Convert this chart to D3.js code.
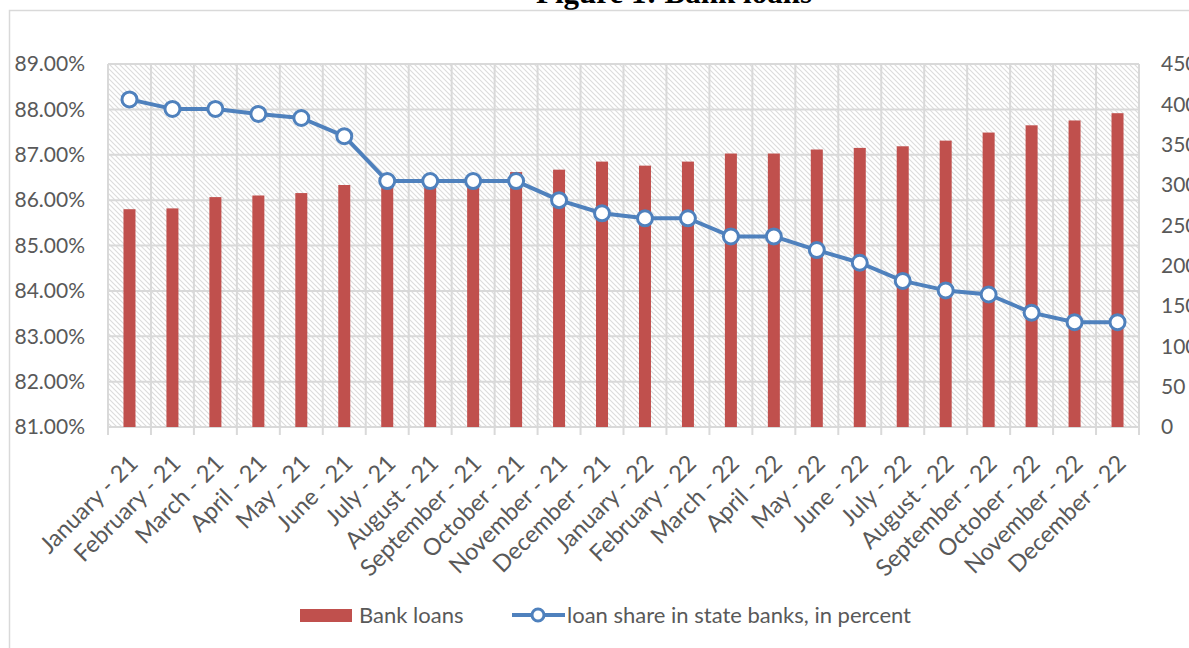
<!DOCTYPE html>
<html>
<head>
<meta charset="utf-8">
<script src="https://cdn.jsdelivr.net/npm/d3@7"></script>
<style>
  body { margin: 0; background: #fff; }
  svg { display: block; }
  text { font-family: Lato, "Open Sans", sans-serif; fill: #595959; }
</style>
</head>
<body>
<div id="chart"></div>
<script>
// chart data
var months = ["January - 21", "February - 21", "March - 21", "April - 21", "May - 21", "June - 21",
    "July - 21", "August - 21", "September - 21", "October - 21", "November - 21", "December - 21",
    "January - 22", "February - 22", "March - 22", "April - 22", "May - 22", "June - 22",
    "July - 22", "August - 22", "September - 22", "October - 22", "November - 22", "December - 22"];

var bankLoans = [270, 271, 285, 287, 290, 300, 303, 306, 310, 316, 319, 329,
    324, 329, 339, 339, 344, 346, 348, 355, 365, 374, 380, 389];

var loanShare = [88.22, 88.01, 88.01, 87.90, 87.81, 87.41, 86.42, 86.42, 86.42, 86.42, 86.00, 85.71,
    85.60, 85.60, 85.20, 85.20, 84.90, 84.62, 84.22, 84.01, 83.92, 83.52, 83.31, 83.31];

var leftTicks = [81, 82, 83, 84, 85, 86, 87, 88, 89];
var rightTicks = [0, 50, 100, 150, 200, 250, 300, 350, 400, 450];

var seriesNames = ["Bank loans", "loan share in state banks, in percent"];

//---------------------------------------------------------------
var gSettings = {
    width : 1189,
    height : 648,
    plot : { left : 108, right : 1139, top : 64, bottom : 427 },
    barColor : "#C0504D",
    lineColor : "#4F81BD",
    gridColor : "#d9d9d9"
};

function drawChart(){
    var p = gSettings.plot;

    var svg = d3.select("#chart").append("svg")
        .attr("width", gSettings.width)
        .attr("height", gSettings.height);

    //hatch pattern for the plot area
    var defs = svg.append("defs");
    var pat = defs.append("pattern")
        .attr("id", "hatch")
        .attr("patternUnits", "userSpaceOnUse")
        .attr("width", 5)
        .attr("height", 5);
    pat.append("rect").attr("width", 5).attr("height", 5).attr("fill", "#fff");
    pat.append("path")
        .attr("d", "M0,0 L5,5 M-1,4 L1,6 M4,-1 L6,1")
        .attr("stroke", "#dcdcdc")
        .attr("stroke-width", 1.1);

    //title (cut off at the top) and the chart frame
    svg.append("text")
        .attr("x", 674)
        .attr("y", 3)
        .attr("text-anchor", "middle")
        .style("font-family", "'Liberation Serif', serif")
        .style("font-weight", "bold")
        .style("font-size", "31px")
        .style("fill", "#000")
        .text("Figure 1: Bank loans");

    svg.append("rect")
        .attr("x", 9.5).attr("y", 10.5)
        .attr("width", 1300).attr("height", 800)
        .attr("fill", "none")
        .attr("stroke", gSettings.gridColor)
        .attr("stroke-width", 1.5);

    var x = d3.scaleBand()
        .domain(months)
        .range([p.left, p.right])
        .padding(0);

    var yLeft = d3.scaleLinear().domain([81, 89]).range([p.bottom, p.top]);
    var yRight = d3.scaleLinear().domain([0, 450]).range([p.bottom, p.top]);

    svg.append("rect")
        .attr("x", p.left).attr("y", p.top)
        .attr("width", p.right - p.left).attr("height", p.bottom - p.top)
        .attr("fill", "url(#hatch)");

    //gridlines
    var grid = svg.append("g").attr("stroke", gSettings.gridColor).attr("stroke-width", 2);
    grid.selectAll("line.h").data(leftTicks).enter().append("line")
        .attr("x1", p.left).attr("x2", p.right)
        .attr("y1", function(d){ return yLeft(d); })
        .attr("y2", function(d){ return yLeft(d); });

    var bounds = months.map(function(m){ return x(m); }).concat([p.right]);
    grid.selectAll("line.v").data(bounds).enter().append("line")
        .attr("x1", function(d){ return d; })
        .attr("x2", function(d){ return d; })
        .attr("y1", p.top)
        .attr("y2", p.bottom + 8);

    //bars
    var barW = 12;
    svg.append("g").selectAll("rect").data(bankLoans).enter().append("rect")
        .attr("x", function(d, i){ return x(months[i]) + x.bandwidth() / 2 - barW / 2; })
        .attr("y", function(d){ return yRight(d); })
        .attr("width", barW)
        .attr("height", function(d){ return yRight(0) - yRight(d); })
        .attr("fill", gSettings.barColor);

    //line with markers
    var line = d3.line()
        .x(function(d, i){ return x(months[i]) + x.bandwidth() / 2; })
        .y(function(d){ return yLeft(d); });

    svg.append("path")
        .datum(loanShare)
        .attr("d", line)
        .attr("fill", "none")
        .attr("stroke", gSettings.lineColor)
        .attr("stroke-width", 4)
        .attr("stroke-linejoin", "round");

    svg.append("g").selectAll("circle").data(loanShare).enter().append("circle")
        .attr("cx", function(d, i){ return x(months[i]) + x.bandwidth() / 2; })
        .attr("cy", function(d){ return yLeft(d); })
        .attr("r", 7.5)
        .attr("fill", "#fff")
        .attr("stroke", gSettings.lineColor)
        .attr("stroke-width", 3);

    //left axis labels
    svg.append("g").selectAll("text").data(leftTicks).enter().append("text")
        .attr("x", 85)
        .attr("y", function(d){ return yLeft(d); })
        .attr("dy", "0.35em")
        .attr("text-anchor", "end")
        .style("font-size", "21px")
        .text(function(d){ return d3.format(".2f")(d) + "%"; });

    //right axis labels
    svg.append("g").selectAll("text").data(rightTicks).enter().append("text")
        .attr("x", 1161)
        .attr("y", function(d){ return yRight(d); })
        .attr("dy", "0.35em")
        .attr("text-anchor", "start")
        .style("font-size", "21px")
        .text(function(d){ return d; });

    //category labels, rotated
    svg.append("g").selectAll("text").data(months).enter().append("text")
        .attr("transform", function(d){
            return "translate(" + (x(d) + x.bandwidth() / 2 + 4) + "," + 459 + ") rotate(-45)";
        })
        .attr("dy", "0.35em")
        .attr("text-anchor", "end")
        .style("font-size", "23.5px")
        .text(function(d){ return d; });

    //legend
    var lg = svg.append("g");
    lg.append("rect")
        .attr("x", 300).attr("y", 609)
        .attr("width", 52).attr("height", 13)
        .attr("fill", gSettings.barColor);
    lg.append("text")
        .attr("x", 359).attr("y", 615)
        .attr("dy", "0.35em")
        .style("font-size", "22px")
        .text(seriesNames[0]);

    lg.append("line")
        .attr("x1", 512).attr("x2", 565)
        .attr("y1", 615).attr("y2", 615)
        .attr("stroke", gSettings.lineColor)
        .attr("stroke-width", 4);
    lg.append("circle")
        .attr("cx", 538).attr("cy", 615).attr("r", 6)
        .attr("fill", "#fff")
        .attr("stroke", gSettings.lineColor)
        .attr("stroke-width", 3);
    lg.append("text")
        .attr("x", 567).attr("y", 615)
        .attr("dy", "0.35em")
        .style("font-size", "22px")
        .text(seriesNames[1]);
}

drawChart();
</script>
</body>
</html>
